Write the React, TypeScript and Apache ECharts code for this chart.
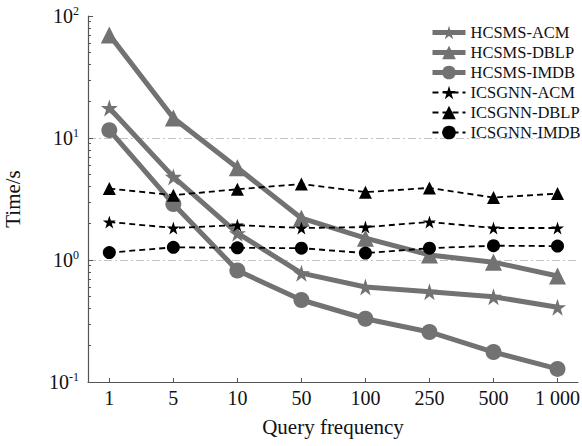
import React, { useEffect, useRef } from "react";
import * as echarts from "echarts";

const categories = ["1", "5", "10", "50", "100", "250", "500", "1 000"];
const hcsmsAcm = [17.6, 4.8, 1.66, 0.78, 0.6, 0.55, 0.5, 0.41];
const hcsmsDblp = [70, 14.6, 5.7, 2.2, 1.51, 1.1, 0.96, 0.74];
const hcsmsImdb = [11.6, 2.88, 0.82, 0.47, 0.33, 0.257, 0.176, 0.128];
const icsgnnAcm = [2.05, 1.83, 1.93, 1.83, 1.86, 2.05, 1.83, 1.83];
const icsgnnDblp = [3.85, 3.4, 3.8, 4.2, 3.6, 3.9, 3.25, 3.5];
const icsgnnImdb = [1.15, 1.27, 1.26, 1.25, 1.14, 1.25, 1.31, 1.3];
const majorTicks = [0.1, 1, 10, 100];
const minorTicks = [0.2, 0.3, 0.4, 0.5, 0.6, 0.7, 0.8, 0.9, 2, 3, 4, 5, 6, 7, 8, 9, 20, 30, 40, 50, 60, 70, 80, 90];
const exponents: Record<string, string> = { "0.1": "-1", "1": "0", "10": "1", "100": "2" };

const STAR = "path://M50,0 L61.2,34.5 L97.6,34.5 L68.2,55.9 L79.4,90.5 L50,69.1 L20.6,90.5 L31.8,55.9 L2.4,34.5 L38.8,34.5 Z";
const FONT = "'Liberation Serif', 'Times New Roman', serif";
const GRAY = "#727272";

export default function App() {
  const ref = useRef<HTMLDivElement>(null);
  useEffect(() => {
    if (!ref.current) return;
    const chart = echarts.init(ref.current, null, { renderer: "svg" });
    const pts = (arr: number[]) => arr.map((v, i) => [i, v]);
    const gray = (name: string, data: number[], symbol: string, size: number) => ({
      name,
      type: "line",
      data: pts(data),
      symbol,
      symbolSize: size,
      lineStyle: { color: GRAY, width: 5 },
      itemStyle: { color: GRAY },
      z: 3,
    });
    const black = (name: string, data: number[], symbol: string, size: number) => ({
      name,
      type: "line",
      data: pts(data),
      symbol,
      symbolSize: size,
      lineStyle: { color: "#000", width: 1.8, type: [6, 4] },
      itemStyle: { color: "#000" },
      z: 4,
    });
    chart.setOption({
      animation: false,
      textStyle: { fontFamily: FONT },
      grid: { left: 88, top: 16, right: 4, bottom: 64, containLabel: false, outerBoundsMode: "none" },
      legend: {
        orient: "vertical",
        left: 430,
        top: 24,
        padding: 0,
        itemGap: 3,
        itemWidth: 33,
        itemHeight: 17,
        lineStyle: { width: "inherit" },
        textStyle: { fontFamily: FONT, fontSize: 16.5, color: "#111" },
        data: ["HCSMS-ACM", "HCSMS-DBLP", "HCSMS-IMDB", "ICSGNN-ACM", "ICSGNN-DBLP", "ICSGNN-IMDB"],
      },
      xAxis: {
        type: "value",
        min: -0.333,
        max: 7.32,
        name: "Query frequency",
        nameLocation: "middle",
        nameGap: 34,
        nameTextStyle: { fontFamily: FONT, fontSize: 21, color: "#111" },
        axisLine: { onZero: false, lineStyle: { color: "#555", width: 1.2 } },
        axisTick: { inside: true, length: 4, customValues: [0, 1, 2, 3, 4, 5, 6, 7], lineStyle: { color: "#555" } },
        axisLabel: {
          customValues: [0, 1, 2, 3, 4, 5, 6, 7],
          formatter: (v: number) => categories[Math.round(v)] ?? "",
          fontFamily: FONT,
          fontSize: 20,
          color: "#111",
          margin: 6,
        },
        splitLine: { show: false },
      },
      yAxis: [
        {
          type: "log",
          min: 0.1,
          max: 100,
          logBase: 10,
          name: "Time/s",
          nameLocation: "middle",
          nameGap: 65,
          nameTextStyle: { fontFamily: FONT, fontSize: 21, color: "#111" },
          axisLine: { show: true, onZero: false, lineStyle: { color: "#555", width: 1.2 } },
          axisTick: { inside: true, length: 5, customValues: majorTicks, lineStyle: { color: "#555" } },
          axisLabel: {
            customValues: majorTicks,
            formatter: (v: number) => "10{s|" + (exponents[String(v)] ?? "") + "}",
            fontFamily: FONT,
            fontSize: 20,
            color: "#111",
            margin: 9,
            rich: { s: { fontFamily: FONT, fontSize: 12, verticalAlign: "top", padding: [0, 0, 10, 0], color: "#111" } },
          },
          splitLine: {
            show: true,
            showMinLine: false,
            showMaxLine: false,
            lineStyle: { color: "#b9c6cf", width: 1, type: [8, 3, 2, 3] },
          },
        },
        {
          type: "log",
          min: 0.1,
          max: 100,
          logBase: 10,
          position: "left",
          axisLine: { show: false, onZero: false },
          axisTick: { inside: true, length: 3, customValues: minorTicks, lineStyle: { color: "#555" } },
          axisLabel: { show: false },
          splitLine: { show: false },
        },
      ],
      series: [
        gray("HCSMS-ACM", hcsmsAcm, STAR, 17),
        gray("HCSMS-DBLP", hcsmsDblp, "triangle", 17),
        gray("HCSMS-IMDB", hcsmsImdb, "circle", 16),
        black("ICSGNN-ACM", icsgnnAcm, STAR, 13),
        black("ICSGNN-DBLP", icsgnnDblp, "triangle", 13),
        black("ICSGNN-IMDB", icsgnnImdb, "circle", 13),
      ],
    });
    return () => chart.dispose();
  }, []);
  return <div ref={ref} style={{ width: 582, height: 446, position: "absolute", left: 0, top: 0 }} />;
}
